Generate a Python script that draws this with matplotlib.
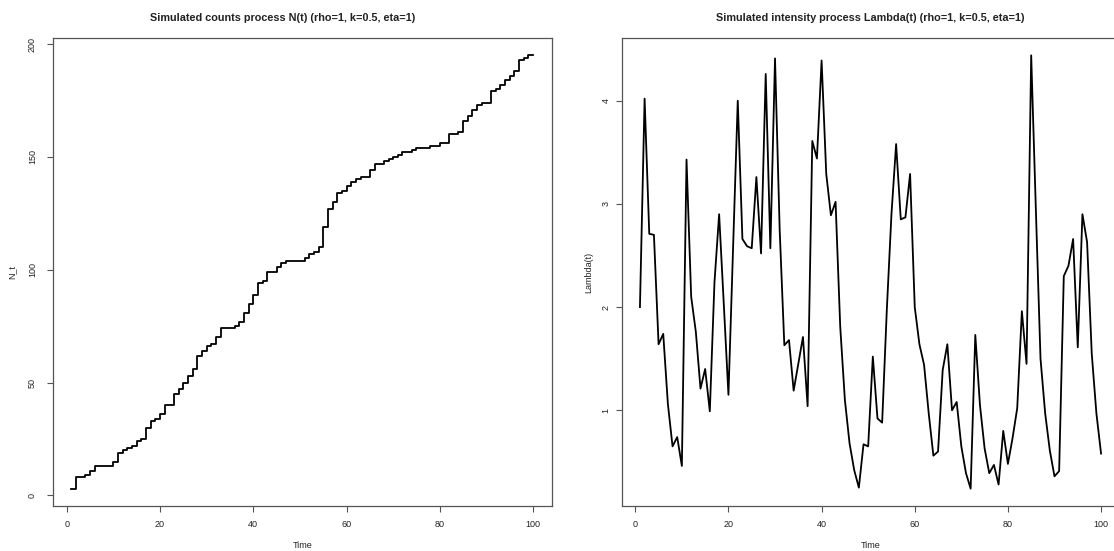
import numpy as np
import matplotlib
matplotlib.use("Agg")
import matplotlib.pyplot as plt

# time index and simulated series
t = list(range(1, 101))
n_t = [3, 8, 8, 9, 11, 13, 13, 13, 13, 15,
       19, 20, 21, 22, 24, 25, 30, 33, 34, 36,
       40, 40, 45, 47, 50, 53, 56, 62, 64, 66,
       67, 70, 74, 74, 74, 75, 77, 81, 85, 89,
       94, 95, 99, 99, 101, 103, 104, 104, 104, 104,
       105, 107, 108, 110, 119, 127, 130, 134, 135, 137,
       139, 140, 141, 141, 144, 147, 147, 148, 149, 150,
       151, 152, 152, 153, 154, 154, 154, 155, 155, 156,
       156, 160, 160, 161, 166, 168, 171, 173, 174, 174,
       179, 180, 182, 184, 186, 188, 193, 194, 195, 195]
lam = [2.00, 4.02, 2.71, 2.70, 1.64, 1.74, 1.06, 0.65, 0.74, 0.46,
       3.43, 2.10, 1.76, 1.21, 1.40, 0.99, 2.24, 2.90, 2.03, 1.15,
       2.58, 4.00, 2.66, 2.59, 2.57, 3.26, 2.52, 4.26, 2.57, 4.41,
       2.75, 1.63, 1.68, 1.19, 1.45, 1.71, 1.04, 3.61, 3.44, 4.39,
       3.29, 2.89, 3.02, 1.81, 1.10, 0.68, 0.42, 0.25, 0.67, 0.65,
       1.52, 0.92, 0.88, 1.97, 2.90, 3.58, 2.85, 2.87, 3.29, 2.00,
       1.64, 1.44, 0.97, 0.56, 0.60, 1.39, 1.64, 1.00, 1.08, 0.65,
       0.39, 0.24, 1.73, 1.05, 0.63, 0.39, 0.47, 0.28, 0.80, 0.48,
       0.73, 1.02, 1.96, 1.45, 4.44, 2.95, 1.50, 0.97, 0.61, 0.36,
       0.41, 2.30, 2.40, 2.66, 1.61, 2.90, 2.63, 1.55, 0.97, 0.58]

W, H = 1114, 551
FONT = ["Liberation Sans", "DejaVu Sans"]
plt.rcParams["font.family"] = FONT
TXT = "#222222"


def r_lim(v):
    # R-style axis range: data range padded by 4% each side
    lo, hi = min(v), max(v)
    d = (hi - lo) * 0.04
    return lo - d, hi + d


def style(ax, xlab, ylab, title, yticks, ypad, ylabpad):
    ax.set_xlim(r_lim(t))
    ax.set_xticks([0, 20, 40, 60, 80, 100])
    ax.set_yticks(yticks)
    for s in ax.spines.values():
        s.set_color("#555555")
        s.set_linewidth(0.9)
    ax.tick_params(direction="out", length=4, width=0.8, color="#555555",
                   labelsize=6.5, labelcolor=TXT)
    ax.tick_params(axis="x", pad=6)
    ax.tick_params(axis="y", pad=ypad)
    for lab in ax.get_yticklabels():
        lab.set_rotation(90)
        lab.set_va("center")
    ax.set_xlabel(xlab, fontsize=6.5, color=TXT, labelpad=9)
    ax.set_ylabel(ylab, fontsize=6.5, color=TXT, labelpad=ylabpad)
    ax.set_title(title, fontsize=7.8, fontweight="bold", color=TXT, pad=12)


fig = plt.figure(figsize=(W / 100, H / 100), dpi=100)
ax1 = fig.add_axes([53 / W, (H - 506) / H, (551.5 - 53) / W, (506 - 38) / H])
ax2 = fig.add_axes([621.5 / W, (H - 506) / H, (1119.5 - 621.5) / W, (506 - 38) / H])

ax1.step(t, n_t, where="post", color="black", lw=1.3)
ax1.set_ylim(r_lim(n_t))
style(ax1, "Time", "N_t", "Simulated counts process N(t) (rho=1, k=0.5, eta=1)",
      [0, 50, 100, 150, 200], ypad=7.5, ylabpad=8)
ax1.title.set_x(0.461)

ax2.plot(t, lam, color="black", lw=1.3)
ax2.set_ylim(r_lim(lam))
style(ax2, "Time", "Lambda(t)",
      "Simulated intensity process Lambda(t) (rho=1, k=0.5, eta=1)", [1, 2, 3, 4],
      ypad=4, ylabpad=5.5)
ax2.title.set_x(0.4995)

fig.savefig("out.png", dpi=100)
